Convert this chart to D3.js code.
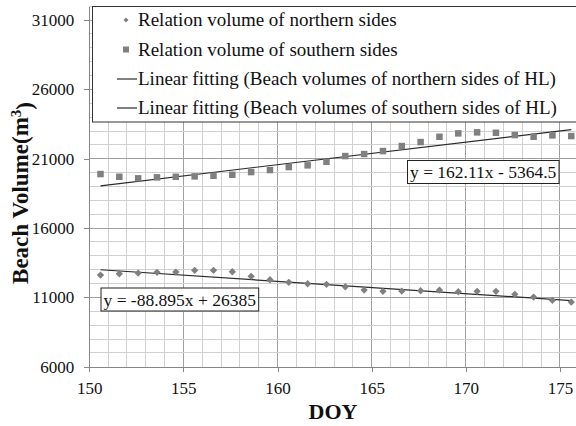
<!DOCTYPE html>
<html>
<head>
<meta charset="utf-8">
<script src="https://cdn.jsdelivr.net/npm/d3@7"></script>
<style>
  html, body { margin: 0; padding: 0; background: #fff; }
  svg { display: block; }
  svg text { font-family: "Liberation Serif", "Times New Roman", Times, "DejaVu Serif", serif !important; }
</style>
</head>
<body>
<svg id="chart" width="576" height="426"></svg>
<script>
// Day of year of each survey
const doy = [150.6, 151.6, 152.6, 153.6, 154.6, 155.6, 156.6, 157.6, 158.6, 159.6,
             160.6, 161.6, 162.6, 163.6, 164.6, 165.6, 166.6, 167.6, 168.6, 169.6,
             170.6, 171.6, 172.6, 173.6, 174.6, 175.6];

// Beach volumes (m³), northern sides
const northVol = [12615, 12709, 12759, 12810, 12832, 12954, 12954, 12853, 12521, 12276,
                  12089, 11988, 11944, 11771, 11533, 11440, 11461, 11483, 11533, 11411,
                  11440, 11440, 11223, 11028, 10790, 10668];

// Beach volumes (m³), southern sides
const southVol = [19897, 19702, 19587, 19659, 19700, 19730, 19774, 19846, 20041, 20185,
                  20401, 20524, 20784, 21195, 21339, 21555, 21916, 22204, 22586, 22831,
                  22903, 22875, 22709, 22586, 22687, 22637];

// Linear fits: [slope, intercept]
const northFit = [-88.895, 26385];
const southFit = [162.11, -5364.5];
const northFitLabel = "y = -88.895x + 26385";
const southFitLabel = "y = 162.11x - 5364.5";

const xTicks = [150, 155, 160, 165, 170, 175];
const yTicks = [6000, 11000, 16000, 21000, 26000, 31000];

const legendLabels = [
  "Relation volume of northern sides",
  "Relation volume of southern sides",
  "Linear fitting (Beach volumes of northern sides of HL)",
  "Linear fitting (Beach volumes of southern sides of HL)"
];

const svg = d3.select("#chart");
const x = d3.scaleLinear().domain([150, 176]).range([89.2, 578.8]);
const y = d3.scaleLinear().domain([6000, 32000]).range([366.8, 6.2]);

const markColor = "#808080";
const lineColor = "#2b2b2b";

// Gridlines: minor every day / 1000 m³, major every 5 days / 5000 m³
const grid = svg.append("g");
const xMinor = d3.range(151, 177);
const yMinor = d3.range(7000, 32001, 1000);
grid.selectAll("line.vx").data(xMinor).join("line")
  .attr("x1", d => x(d)).attr("x2", d => x(d))
  .attr("y1", y.range()[1]).attr("y2", y.range()[0])
  .attr("stroke", d => (d % 5 === 0) ? "#a0a0a0" : "#d0d0d0")
  .attr("stroke-width", 1).attr("shape-rendering", "crispEdges");
grid.selectAll("line.hy").data(yMinor).join("line")
  .attr("x1", x.range()[0]).attr("x2", x.range()[1])
  .attr("y1", d => y(d)).attr("y2", d => y(d))
  .attr("stroke", d => ((d - 6000) % 5000 === 0) ? "#a0a0a0" : "#d0d0d0")
  .attr("stroke-width", 1).attr("shape-rendering", "crispEdges");

// Axes
const xAxis = svg.append("g")
  .attr("transform", `translate(0,${y(6000)})`)
  .call(d3.axisBottom(x).tickValues(xTicks).tickSize(5).tickSizeOuter(0).tickPadding(6));
const yAxis = svg.append("g")
  .attr("transform", `translate(${x(150)},0)`)
  .call(d3.axisLeft(y).tickValues(yTicks).tickSize(5).tickSizeOuter(0).tickPadding(10).tickFormat(d3.format("d")));
[xAxis, yAxis].forEach(a => {
  a.select(".domain").attr("stroke", "#868686").attr("shape-rendering", "crispEdges");
  a.selectAll(".tick line").attr("stroke", "#868686").attr("shape-rendering", "crispEdges");
  a.selectAll(".tick text").attr("fill", "#111").style("font-size", "17px");
});
xAxis.selectAll(".tick text").attr("dy", "0.95em");

// Axis titles
svg.append("text")
  .attr("x", 333).attr("y", 419)
  .attr("text-anchor", "middle")
  .style("font-size", "22px").style("font-weight", "bold")
  .attr("fill", "#111")
  .text("DOY");

const yTitle = svg.append("text")
  .attr("transform", "translate(28,193) rotate(-90)")
  .attr("text-anchor", "middle")
  .style("font-size", "23px").style("font-weight", "bold")
  .attr("fill", "#111");
yTitle.append("tspan").text("Beach Volume(m");
yTitle.append("tspan").attr("dy", "-0.45em").style("font-size", "15px").text("3");
yTitle.append("tspan").attr("dy", "0.45em").text(")");

// Trend lines from the fitted equations
const fitLine = d3.line().x(d => x(d[0])).y(d => y(d[1]));
const xEnds = [doy[0], doy[doy.length - 1]];
[northFit, southFit].forEach(f => {
  svg.append("path")
    .attr("d", fitLine(xEnds.map(v => [v, f[0] * v + f[1]])))
    .attr("fill", "none").attr("stroke", lineColor).attr("stroke-width", 1.2);
});

// Northern sides: diamonds
const diamond = d3.symbol().type(d3.symbolDiamond2).size(34);
svg.append("g").selectAll("path").data(doy).join("path")
  .attr("d", diamond)
  .attr("transform", (d, i) => `translate(${x(d)},${y(northVol[i])})`)
  .attr("fill", markColor);

// Southern sides: squares
const sq = 6.5;
svg.append("g").selectAll("rect").data(doy).join("rect")
  .attr("x", d => x(d) - sq / 2)
  .attr("y", (d, i) => y(southVol[i]) - sq / 2)
  .attr("width", sq).attr("height", sq)
  .attr("fill", markColor);

// Equation labels with boxes
function eqLabel(tx, ty, label) {
  const g = svg.append("g");
  const t = g.append("text").attr("x", tx).attr("y", ty)
    .style("font-size", "17.5px").attr("fill", "#111").text(label);
  const b = t.node().getBBox();
  g.insert("rect", "text")
    .attr("x", b.x - 2.5).attr("y", ty - 17.5)
    .attr("width", b.width + 5).attr("height", 23)
    .attr("fill", "#fff").attr("stroke", "#222").attr("stroke-width", 1);
}
eqLabel(410, 178, southFitLabel);
eqLabel(103.5, 305.5, northFitLabel);

// Legend
const lg = svg.append("g");
lg.append("rect")
  .attr("x", 92.5).attr("y", 6.5).attr("width", 500).attr("height", 115.5)
  .attr("fill", "#fff").attr("stroke", "#333").attr("stroke-width", 1);
const rowY = [20, 49.5, 79, 108];
lg.selectAll("text").data(legendLabels).join("text")
  .attr("x", 138).attr("y", (d, i) => rowY[i])
  .attr("dy", "0.33em")
  .style("font-size", "19px").attr("fill", "#111")
  .text(d => d);
lg.append("path")
  .attr("d", d3.symbol().type(d3.symbolDiamond2).size(16))
  .attr("transform", `translate(126,${rowY[0]})`)
  .attr("fill", markColor);
lg.append("rect")
  .attr("x", 123).attr("y", rowY[1] - 3).attr("width", 6).attr("height", 6)
  .attr("fill", markColor);
[rowY[2], rowY[3]].forEach(ry => {
  lg.append("line")
    .attr("x1", 117).attr("x2", 137).attr("y1", ry).attr("y2", ry)
    .attr("stroke", lineColor).attr("stroke-width", 1.2);
});
</script>
</body>
</html>
